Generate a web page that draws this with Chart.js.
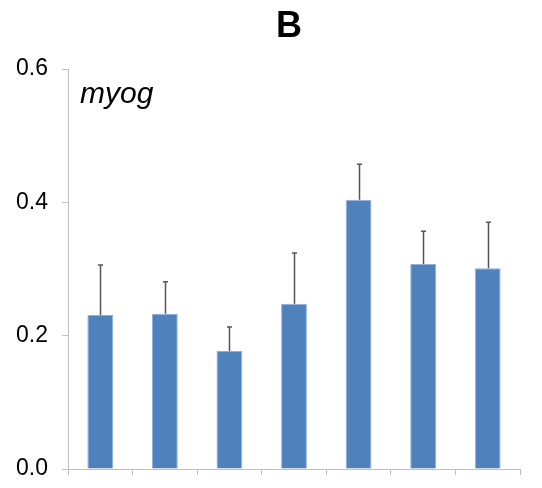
<!DOCTYPE html>
<html>
<head>
<meta charset="utf-8">
<script src="https://cdn.jsdelivr.net/npm/chart.js@4/dist/chart.umd.min.js"></script>
<style>
  html, body { margin: 0; padding: 0; background: #fff; }
  #wrap { width: 542px; height: 488px; }
</style>
</head>
<body>
<div id="wrap"><canvas id="c" width="542" height="488"></canvas></div>
<script>
const categories = ['1', '2', '3', '4', '5', '6', '7'];
const values = [0.231, 0.233, 0.177, 0.248, 0.404, 0.3075, 0.301];
const errorsUp = [0.075, 0.048, 0.036, 0.076, 0.053, 0.049, 0.069];
const yTicks = [0.0, 0.2, 0.4, 0.6];
const titleText = 'B';
const geneLabel = 'myog';

const FONT = '"Liberation Sans", Arial, Helvetica, sans-serif';

const errorBarPlugin = {
  id: 'errorBars',
  afterDatasetsDraw(chart) {
    const ctx = chart.ctx;
    const meta = chart.getDatasetMeta(0);
    const y = chart.scales.y;
    ctx.save();
    ctx.strokeStyle = '#555555';
    ctx.lineWidth = 1.5;
    meta.data.forEach((bar, i) => {
      const x = Math.round(bar.x) + 0.5;
      const yTop = y.getPixelForValue(values[i] + errorsUp[i]);
      const yBase = y.getPixelForValue(values[i]);
      ctx.beginPath();
      ctx.moveTo(x, yBase);
      ctx.lineTo(x, yTop);
      ctx.moveTo(x - 2.5, yTop);
      ctx.lineTo(x + 2.5, yTop);
      ctx.stroke();
    });
    ctx.restore();
  }
};

const textPlugin = {
  id: 'texts',
  afterDraw(chart) {
    const ctx = chart.ctx;
    const area = chart.chartArea;
    ctx.save();
    ctx.fillStyle = '#000';
    ctx.textAlign = 'center';
    ctx.textBaseline = 'alphabetic';
    ctx.font = 'bold 36px ' + FONT;
    ctx.fillText(titleText, 289, 37);
    ctx.textAlign = 'left';
    ctx.font = 'italic 30px ' + FONT;
    ctx.fillText(geneLabel, area.left + 12, 103);
    ctx.restore();
  }
};

new Chart(document.getElementById('c'), {
  type: 'bar',
  data: {
    labels: categories,
    datasets: [{
      data: values,
      backgroundColor: '#4F81BD',
      borderColor: '#8FB0DA',
      borderWidth: 1,
      barPercentage: 0.4,
      categoryPercentage: 1.0
    }]
  },
  options: {
    responsive: false,
    animation: false,
    devicePixelRatio: 1,
    layout: { padding: { top: 69, right: 22, bottom: 0, left: 0 } },
    plugins: {
      legend: { display: false },
      title: { display: false },
      tooltip: { enabled: false }
    },
    scales: {
      x: {
        offset: true,
        grid: {
          offset: true,
          drawOnChartArea: false,
          drawTicks: true,
          tickLength: 6,
          color: '#BFBFBF',
          lineWidth: 1
        },
        border: { display: true, color: '#BFBFBF', width: 1 },
        ticks: { display: false },
        afterFit(scale) { scale.height = 19; }
      },
      y: {
        min: 0,
        max: 0.6,
        afterBuildTicks(scale) { scale.ticks = yTicks.map(v => ({ value: v })); },
        grid: {
          drawOnChartArea: false,
          drawTicks: true,
          tickLength: 6,
          color: '#BFBFBF',
          lineWidth: 1
        },
        border: { display: true, color: '#BFBFBF', width: 1 },
        ticks: {
          padding: 14,
          color: '#000',
          font: { family: FONT, size: 23 },
          callback: (v) => Number(v).toFixed(1)
        },
        afterFit(scale) {
          scale.width = 68;
          scale.paddingTop = 0;
          scale.paddingBottom = 0;
        }
      }
    }
  },
  plugins: [errorBarPlugin, textPlugin]
});
</script>
</body>
</html>
